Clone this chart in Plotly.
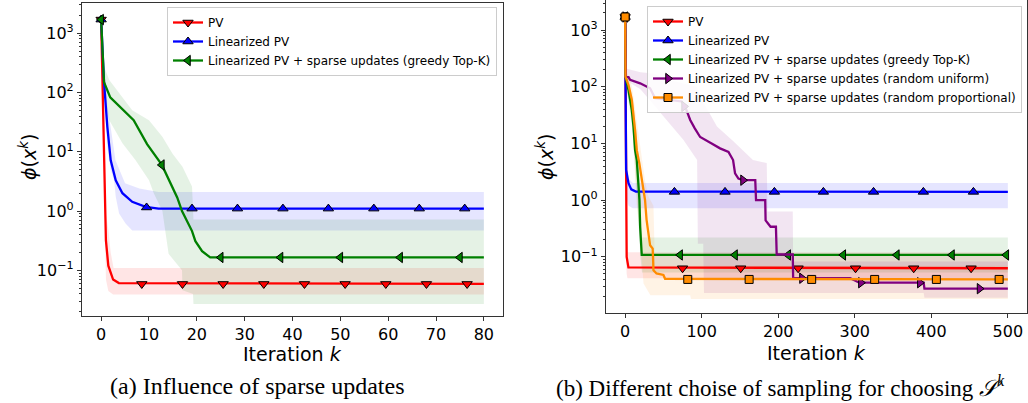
import plotly.graph_objects as go

W, H = 1028, 403

# ---------------- panel (a): influence of sparse updates ----------------
a_pv_k = [0, 1, 1.5, 2.5, 3.7, 80]
a_pv_y = [1700, 0.32, 0.12, 0.07, 0.061, 0.059]
a_pv_hi_k = [0, 1, 1.5, 2, 2.6, 80]
a_pv_hi = [1700, 0.9, 0.5, 0.2, 0.11, 0.11]
a_pv_lo_k = [0, 1, 1.5, 2.5, 80]
a_pv_lo = [1700, 0.07, 0.045, 0.039, 0.039]
a_pv_mk_k = [0, 8.5, 17, 25.5, 34, 42.5, 51, 59.5, 68, 76.5]
a_pv_mk_y = [1700, 0.059, 0.059, 0.059, 0.059, 0.059, 0.059, 0.059, 0.059, 0.059]

a_lin_k = [0, 0.6, 1.3, 2.0, 3.05, 4.45, 6.5, 9.3, 12, 80]
a_lin_y = [1700, 152, 26, 7.2, 3.3, 2.0, 1.43, 1.18, 1.1, 1.1]
a_lin_hi_k = [0, 0.6, 1.3, 2, 3, 5, 8, 12, 80]
a_lin_hi = [1700, 300, 60, 26, 7.2, 2.95, 2.4, 2.1, 2.1]
a_lin_lo_k = [0, 0.6, 1.3, 2, 2.7, 3.05, 3.75, 5.1, 6.5, 80]
a_lin_lo = [1700, 100, 12, 5, 3.3, 1.74, 0.91, 0.62, 0.47, 0.47]
a_lin_mk_k = [0, 9.5, 19, 28.5, 38, 47.5, 57, 66.5, 76]
a_lin_mk_y = [1700, 1.15, 1.1, 1.1, 1.1, 1.1, 1.1, 1.1, 1.1]

a_top_k = [0, 0.6, 1.9, 6.8, 9.6, 12.7, 15.9, 16.9, 19, 19.7, 21.1, 22.8, 80]
a_top_y = [1700, 150, 83, 34, 13.5, 6.0, 1.7, 1.0, 0.46, 0.31, 0.21, 0.165, 0.165]
a_top_hi_k = [0, 0.6, 1.7, 3.8, 6.5, 10, 12.8, 14.9, 17, 19, 19.3, 80]
a_top_hi = [1700, 275, 163, 97, 50, 34, 18, 9.4, 5.6, 2.6, 0.72, 0.72]
a_top_lo_k = [0, 0.6, 1.7, 4.45, 7.2, 10, 11, 12.8, 14.1, 16.9, 17, 19.2, 19.3, 80]
a_top_lo = [1700, 100, 34, 14, 7.2, 3.3, 2.0, 1.0, 0.19, 0.1, 0.046, 0.04, 0.027, 0.027]
a_top_mk_k = [0, 12.7, 25, 37.5, 50, 62.5, 75]
a_top_mk_y = [1700, 6.0, 0.165, 0.165, 0.165, 0.165, 0.165]

# ---------------- panel (b): different sampling ----------------
b_pv_k = [0, 1, 2, 4.3, 500]
b_pv_y = [1700, 0.3, 0.1, 0.065, 0.063]
b_pv_hi_k = [0, 1, 2, 3, 500]
b_pv_hi = [1700, 1.0, 0.2, 0.12, 0.12]
b_pv_lo_k = [0, 1, 2, 3, 500]
b_pv_lo = [1700, 0.1, 0.05, 0.042, 0.042]
b_pv_mk_k = [0, 75, 151, 226, 301, 377, 452]
b_pv_mk_y = [1700, 0.063, 0.063, 0.063, 0.063, 0.063, 0.063]

b_lin_k = [0, 0.5, 1.3, 4.4, 8, 14, 500]
b_lin_y = [1700, 150, 3.4, 2.0, 1.55, 1.42, 1.4]
b_lin_hi_k = [0, 0.5, 1.3, 4.4, 10, 500]
b_lin_hi = [1700, 300, 10, 2.4, 2.0, 2.0]
b_lin_lo_k = [0, 0.5, 1.3, 4.4, 10, 500]
b_lin_lo = [1700, 80, 1.2, 0.8, 0.72, 0.72]
b_lin_mk_k = [0, 64.4, 130.5, 195, 259, 324.5, 389.6, 455]
b_lin_mk_y = [1700, 1.4, 1.4, 1.4, 1.4, 1.4, 1.4, 1.4]

b_top_k = [0, 0.5, 4.4, 8.7, 10.9, 13, 15.2, 17.4, 18.7, 19.6, 21.7, 500]
b_top_y = [1700, 150, 87, 39, 20, 7.6, 5.1, 2.0, 1.0, 0.34, 0.108, 0.108]
b_top_hi_k = [0, 0.5, 5, 10, 15, 18, 20, 22, 500]
b_top_hi = [1700, 200, 130, 60, 15, 5, 1.0, 0.22, 0.22]
b_top_lo_k = [0, 0.5, 5, 10, 13, 17, 20, 22, 500]
b_top_lo = [1700, 110, 50, 15, 3, 0.5, 0.1, 0.053, 0.053]
b_top_mk_k = [0, 71.8, 143.6, 213, 285, 355, 427, 498]
b_top_mk_y = [1700, 0.108, 0.108, 0.108, 0.108, 0.108, 0.108, 0.108]

b_uni_k = [0, 1, 4.4, 6.5, 19.6, 32.6, 39, 54, 74, 78.3, 85, 91, 98, 113, 124, 135,
           141, 143.6, 148, 154, 170, 171, 183, 183.5, 190, 197, 198, 219, 219.5,
           294, 306, 390, 391, 500]
b_uni_y = [1700, 150, 148, 132, 115, 94, 63, 59, 55, 45, 26, 18.5, 13, 10, 8.2, 7.1,
           5.1, 2.96, 2.4, 2.25, 2.25, 1.0, 1.0, 0.44, 0.34, 0.34, 0.11, 0.11, 0.042,
           0.042, 0.035, 0.035, 0.0275, 0.0275]
b_uni_hi_k = [0, 1, 20, 37, 59, 94, 98, 120, 141, 167, 185, 186, 219, 219.5, 500]
b_uni_hi = [1700, 210, 180, 172, 132, 100, 67, 20, 11, 5.1, 4.5, 0.63, 0.63, 0.083, 0.083]
b_uni_lo_k = [0, 1, 20, 37, 54, 76, 94, 95, 102, 103, 390, 391, 500]
b_uni_lo = [1700, 130, 90, 50, 26, 11.6, 5.1, 0.17, 0.17, 0.023, 0.023, 0.019, 0.019]
b_uni_mk_k = [0, 77, 154, 231, 308, 385, 463]
b_uni_mk_y = [1700, 45, 2.25, 0.042, 0.035, 0.035, 0.0275]

b_prop_k = [0, 0.5, 4.4, 8.7, 13, 15.2, 18.5, 21.7, 23.9, 26, 28, 30, 32.6, 36, 37,
            41, 50, 52.2, 500]
b_prop_y = [1700, 150, 107, 59, 17, 7.6, 4.5, 2.3, 1.5, 1.0, 0.45, 0.28, 0.16, 0.14,
            0.058, 0.051, 0.048, 0.041, 0.04]
b_prop_hi_k = [0, 0.5, 5, 9, 13, 18, 22, 26, 30, 37, 39, 500]
b_prop_hi = [1700, 200, 150, 100, 40, 12, 5, 2.2, 1.2, 0.8, 0.07, 0.07]
b_prop_lo_k = [0, 0.5, 5, 9, 13, 15, 20, 24, 33, 85, 86, 500]
b_prop_lo = [1700, 100, 60, 25, 3, 0.9, 0.2, 0.034, 0.021, 0.021, 0.018, 0.018]
b_prop_mk_k = [0, 81.8, 162, 243.7, 326, 406.6, 488.6]
b_prop_mk_y = [1700, 0.04, 0.04, 0.04, 0.04, 0.04, 0.04]

decade_vals = [0.1, 1, 10, 100, 1000]
decade_text = ["10<sup>\u22121</sup>", "10<sup>0</sup>", "10<sup>1</sup>",
               "10<sup>2</sup>", "10<sup>3</sup>"]

names = {
    "pv": "PV",
    "lin": "Linearized PV",
    "top": "Linearized PV + sparse updates (greedy Top-K)",
    "uni": "Linearized PV + sparse updates (random uniform)",
    "prop": "Linearized PV + sparse updates (random proportional)",
}
colors = {"pv": "#ff0000", "lin": "#0000ff", "top": "#008000",
          "uni": "#800080", "prop": "#ff8c00"}
fills = {"pv": "rgba(255,0,0,0.1)", "lin": "rgba(0,0,255,0.1)",
         "top": "rgba(0,128,0,0.1)", "uni": "rgba(128,0,128,0.1)",
         "prop": "rgba(255,140,0,0.1)"}
symbols = {"pv": "triangle-down", "lin": "triangle-up", "top": "triangle-left",
           "uni": "triangle-right", "prop": "square"}
msize = {"pv": 9, "lin": 9, "top": 9, "uni": 9, "prop": 8}

panel_a = [
    ("pv", a_pv_k, a_pv_y, a_pv_hi_k, a_pv_hi, a_pv_lo_k, a_pv_lo, a_pv_mk_k, a_pv_mk_y),
    ("lin", a_lin_k, a_lin_y, a_lin_hi_k, a_lin_hi, a_lin_lo_k, a_lin_lo, a_lin_mk_k, a_lin_mk_y),
    ("top", a_top_k, a_top_y, a_top_hi_k, a_top_hi, a_top_lo_k, a_top_lo, a_top_mk_k, a_top_mk_y),
]
panel_b = [
    ("pv", b_pv_k, b_pv_y, b_pv_hi_k, b_pv_hi, b_pv_lo_k, b_pv_lo, b_pv_mk_k, b_pv_mk_y),
    ("lin", b_lin_k, b_lin_y, b_lin_hi_k, b_lin_hi, b_lin_lo_k, b_lin_lo, b_lin_mk_k, b_lin_mk_y),
    ("top", b_top_k, b_top_y, b_top_hi_k, b_top_hi, b_top_lo_k, b_top_lo, b_top_mk_k, b_top_mk_y),
    ("uni", b_uni_k, b_uni_y, b_uni_hi_k, b_uni_hi, b_uni_lo_k, b_uni_lo, b_uni_mk_k, b_uni_mk_y),
    ("prop", b_prop_k, b_prop_y, b_prop_hi_k, b_prop_hi, b_prop_lo_k, b_prop_lo, b_prop_mk_k, b_prop_mk_y),
]

fig = go.Figure()

for series, xa, ya, leg in [(panel_a, "x", "y", "legend"), (panel_b, "x2", "y2", "legend2")]:
    # bands first
    for key, k, y, hk, hv, lk, lv, mk, my in series:
        fig.add_trace(go.Scatter(
            x=list(hk) + list(lk)[::-1], y=list(hv) + list(lv)[::-1],
            fill="toself", fillcolor=fills[key], line=dict(width=0),
            mode="lines", hoverinfo="skip", showlegend=False, xaxis=xa, yaxis=ya))
    # lines with markers
    for key, k, y, hk, hv, lk, lv, mk, my in series:
        fig.add_trace(go.Scatter(
            x=k, y=y, mode="lines", line=dict(color=colors[key], width=2.3),
            showlegend=False, xaxis=xa, yaxis=ya))
        fig.add_trace(go.Scatter(
            x=mk, y=my, mode="markers",
            marker=dict(symbol=symbols[key], size=msize[key], color=colors[key],
                        line=dict(color="black", width=1)),
            showlegend=False, xaxis=xa, yaxis=ya))
    # legend entries
    for key, *_ in series:
        fig.add_trace(go.Scatter(
            x=[None], y=[None], mode="lines+markers", name=names[key],
            line=dict(color=colors[key], width=2.3),
            marker=dict(symbol=symbols[key], size=msize[key], color=colors[key],
                        line=dict(color="black", width=1)),
            legend=leg, xaxis=xa, yaxis=ya))

axis_common = dict(showline=True, mirror=True, linecolor="#333333", linewidth=1.2,
                   ticks="outside", ticklen=4, tickwidth=1, tickcolor="#333333",
                   showgrid=False, zeroline=False,
                   tickfont=dict(family="DejaVu Sans", size=16, color="black"))

minor_vals = [m * 10 ** e for e in range(-2, 4) for m in range(2, 10)]

legend_common = dict(xanchor="right", yanchor="top", itemwidth=30,
                     bgcolor="rgba(255,255,255,0.85)", bordercolor="#cccccc",
                     borderwidth=1,
                     font=dict(family="DejaVu Sans", size=12, color="black"))

fig.update_layout(
    width=W, height=H, margin=dict(l=0, r=0, t=0, b=0),
    plot_bgcolor="white", paper_bgcolor="white",
    font=dict(family="DejaVu Sans", color="black"),
    xaxis=dict(domain=[82 / W, 503 / W], range=[-4, 84],
               tickvals=[0, 10, 20, 30, 40, 50, 60, 70, 80], anchor="y", **axis_common),
    yaxis=dict(domain=[(H - 316) / H, (H - 3) / H], type="log", range=[-1.77, 3.51],
               tickvals=decade_vals, ticktext=decade_text, anchor="x",
               minor=dict(tickvals=minor_vals, ticks="outside", ticklen=2,
                          tickcolor="#333333"), **axis_common),
    xaxis2=dict(domain=[606 / W, 1027 / W], range=[-25, 525],
                tickvals=[0, 100, 200, 300, 400, 500], anchor="y2", **axis_common),
    yaxis2=dict(domain=[(H - 313) / H, 1.0], type="log", range=[-1.99, 3.53],
                tickvals=decade_vals, ticktext=decade_text, anchor="x2",
                minor=dict(tickvals=minor_vals, ticks="outside", ticklen=2,
                           tickcolor="#333333"), **axis_common),
    legend=dict(x=497 / W, y=(H - 7) / H, **legend_common),
    legend2=dict(x=1022 / W, y=(H - 6) / H, **legend_common),
)

ann_font = dict(family="DejaVu Sans", size=19, color="black")
annotations = [
    dict(text="<i>\u03d5</i>(<i>x</i><sup><i>k</i></sup>)", x=28 / W, y=(H - 157) / H,
         textangle=-90, font=ann_font),
    dict(text="<i>\u03d5</i>(<i>x</i><sup><i>k</i></sup>)", x=545 / W, y=(H - 157) / H,
         textangle=-90, font=ann_font),
    dict(text="Iteration <i>k</i>", x=292 / W, y=(H - 354) / H, font=ann_font),
    dict(text="Iteration <i>k</i>", x=816 / W, y=(H - 353) / H, font=ann_font),
    dict(text="(a) Influence of sparse updates", x=257 / W, y=(H - 386) / H,
         font=dict(family="Liberation Serif", size=24, color="black")),
    dict(text="(b) Different choise of sampling for choosing <i>\U0001D4AE</i><sup><i>k</i></sup>",
         x=780 / W, y=(H - 386) / H,
         font=dict(family="Liberation Serif", size=23, color="black")),
]
for a in annotations:
    a.update(xref="paper", yref="paper", showarrow=False, xanchor="center", yanchor="middle")
fig.update_layout(annotations=annotations)

fig.write_html("out.html",
               config={"displayModeBar": False},
               post_script="document.body.style.margin='0';"
                           "document.body.style.overflow='hidden';")
